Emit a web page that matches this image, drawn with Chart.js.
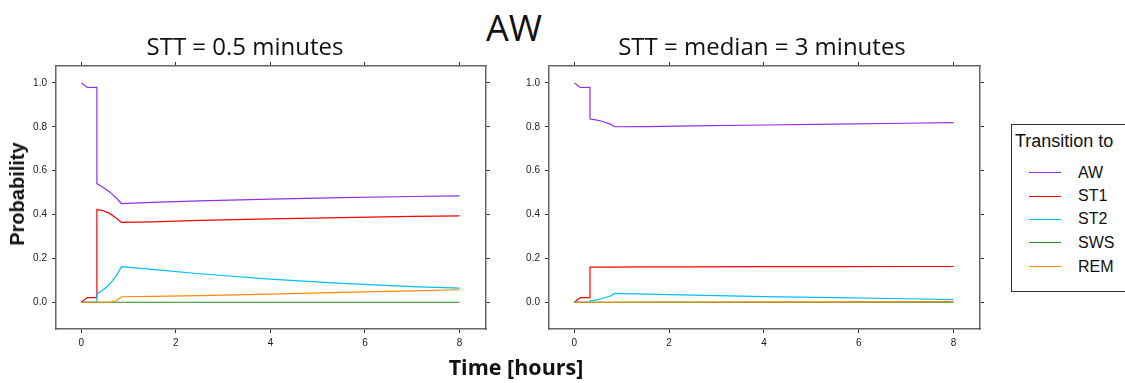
<!DOCTYPE html>
<html>
<head>
<meta charset="utf-8">
<script src="https://cdn.jsdelivr.net/npm/chart.js@4.4.1/dist/chart.umd.min.js"></script>
<style>
  html, body { margin: 0; padding: 0; background: #fff; }
  #page { position: relative; width: 1125px; height: 383px; overflow: hidden; background: #fff; }
  canvas { position: absolute; }
  .txt { position: absolute; white-space: nowrap; color: #111; line-height: 1; }
  .calib { font-family: "Open Sans", sans-serif; }
  .helv { font-family: "Liberation Sans", Arial, sans-serif; }
  #legend { position: absolute; left: 1011px; top: 124px; width: 140px; height: 166px; border: 1px solid #333; }
  .legLine { position: absolute; height: 0; border-top: 1.5px solid; }
</style>
</head>
<body>
<div id="page">
  <canvas id="panelA" width="500" height="310" style="left:0px;top:55px;width:500px;height:310px"></canvas>
  <canvas id="panelB" width="500" height="310" style="left:493px;top:55px;width:500px;height:310px"></canvas>

  <div class="txt calib" style="left:514px;top:9.5px;font-size:36px;transform:translateX(-50%)">AW</div>
  <div class="txt calib" style="left:245px;top:33.5px;font-size:24px;transform:translateX(-50%)">STT = 0.5 minutes</div>
  <div class="txt calib" style="left:762px;top:33.5px;font-size:24px;transform:translateX(-50%)">STT = median = 3 minutes</div>
  <div class="txt calib" style="left:516px;top:356px;font-size:21.5px;font-weight:bold;transform:translateX(-50%)">Time [hours]</div>
  <div class="txt helv" style="left:16.5px;top:194px;font-size:20px;font-weight:bold;transform:translate(-50%,-50%) rotate(-90deg)">Probability</div>

  <div id="legend"></div>
</div>

<script>
// Time grid (hours) shared by both panels; the repeated 0.33 marks the vertical jump.
const times = [0, 0.06, 0.13, 0.33, 0.33, 0.45, 0.6, 0.75, 0.85, 1.5, 2.5, 4, 5.5, 7, 8];

const seriesNames = ["AW", "ST1", "ST2", "SWS", "REM"];
const seriesColors = ["#9030E8", "#FF0000", "#00BFFF", "#228B22", "#FF8C00"];

// STT = 0.5 minutes
const shortAW  = [1.0, 0.99, 0.979, 0.98, 0.541, 0.525, 0.503, 0.473, 0.45, 0.455, 0.462, 0.47, 0.477, 0.482, 0.485];
const shortST1 = [0, 0.01, 0.021, 0.021, 0.423, 0.418, 0.405, 0.382, 0.364, 0.366, 0.373, 0.380, 0.386, 0.391, 0.394];
const shortST2 = [0, 0, 0, 0, 0.038, 0.055, 0.082, 0.125, 0.162, 0.150, 0.130, 0.105, 0.086, 0.071, 0.064];
const shortSWS = [0, 0, 0, 0, 0, 0, 0, 0, 0, 0, 0, 0, 0, 0, 0];
const shortREM = [0, 0, 0, 0, 0, 0, 0, 0.008, 0.025, 0.027, 0.030, 0.037, 0.045, 0.052, 0.057];

// STT = median = 3 minutes
const medAW  = [1.0, 0.99, 0.979, 0.98, 0.835, 0.831, 0.824, 0.813, 0.80, 0.801, 0.804, 0.808, 0.812, 0.816, 0.819];
const medST1 = [0, 0.01, 0.021, 0.021, 0.16, 0.16, 0.16, 0.16, 0.16, 0.161, 0.161, 0.162, 0.162, 0.163, 0.163];
const medST2 = [0, 0, 0, 0, 0.006, 0.010, 0.018, 0.027, 0.040, 0.037, 0.032, 0.026, 0.021, 0.016, 0.012];
const medSWS = [0, 0, 0, 0, 0, 0, 0, 0, 0, 0, 0, 0, 0, 0, 0];
const medREM = [0, 0, 0, 0, 0, 0, 0, 0, 0, 0.001, 0.001, 0.002, 0.002, 0.003, 0.003];

const xTickValues = [0, 2, 4, 6, 8];
const yTickValues = [0, 0.2, 0.4, 0.6, 0.8, 1.0];

const X_MIN = -0.535, X_MAX = 8.56;
const Y_MIN = -0.122, Y_MAX = 1.077;

function fixedTicks(values) {
  return (scale) => { scale.ticks = values.map(v => ({ value: v })); };
}

function axis(position, values, size, showLabels, isX, min, max) {
  return {
    type: 'linear',
    position: position,
    min: min, max: max,
    afterBuildTicks: fixedTicks(values),
    afterFit: (s) => { if (isX) s.height = size; else s.width = size; },
    grid: { display: true, drawOnChartArea: false, drawTicks: true, tickLength: 4, tickColor: '#333', tickWidth: 1 },
    border: { display: true, color: '#666', width: 1.5 },
    ticks: {
      display: showLabels,
      color: '#222',
      padding: isX ? 4 : 5,
      maxRotation: 0,
      autoSkip: false,
      font: { family: 'Liberation Sans, Arial, sans-serif', size: 10 },
      callback: (v) => isX ? String(v) : Number(v).toFixed(1)
    }
  };
}

function makePanel(id, seriesList, rightAxisWidth) {
  const datasets = seriesList.map((vals, i) => ({
    label: seriesNames[i],
    data: times.map((t, j) => ({ x: t, y: vals[j] })),
    borderColor: seriesColors[i],
    borderWidth: 1.2,
    pointRadius: 0,
    fill: false,
    tension: 0,
    order: seriesList.length - 1 - i,   // later series drawn on top
    xAxisID: 'x', yAxisID: 'y'
  }));
  return new Chart(document.getElementById(id), {
    type: 'line',
    data: { datasets },
    options: {
      responsive: false,
      animation: false,
      events: [],
      layout: { padding: 0 },
      plugins: { legend: { display: false }, tooltip: { enabled: false }, title: { display: false } },
      scales: {
        x: axis('bottom', xTickValues, 36, true, true, X_MIN, X_MAX),
        xTop: axis('top', xTickValues, 10, false, true, X_MIN, X_MAX),
        y: axis('left', yTickValues, 56, true, false, Y_MIN, Y_MAX),
        yRight: axis('right', yTickValues, rightAxisWidth, false, false, Y_MIN, Y_MAX)
      }
    }
  });
}

makePanel('panelA', [shortAW, shortST1, shortST2, shortSWS, shortREM], 14);
makePanel('panelB', [medAW, medST1, medST2, medSWS, medREM], 13);

// Legend: "Transition to" with one short line per series
const legend = document.getElementById('legend');
const title = document.createElement('div');
title.className = 'txt helv';
title.style.cssText = 'left:3px;top:7px;font-size:18px;';
title.textContent = 'Transition to';
legend.appendChild(title);
const rowY = [47, 70.5, 93.5, 117, 141];
seriesNames.forEach((name, i) => {
  const ln = document.createElement('div');
  ln.className = 'legLine';
  ln.style.cssText = `left:17px;top:${rowY[i]}px;width:32px;border-top-color:${seriesColors[i]};`;
  legend.appendChild(ln);
  const lb = document.createElement('div');
  lb.className = 'txt helv';
  lb.style.cssText = `left:66px;top:${rowY[i] - 7.5}px;font-size:16px;`;
  lb.textContent = name;
  legend.appendChild(lb);
});
</script>
</body>
</html>
